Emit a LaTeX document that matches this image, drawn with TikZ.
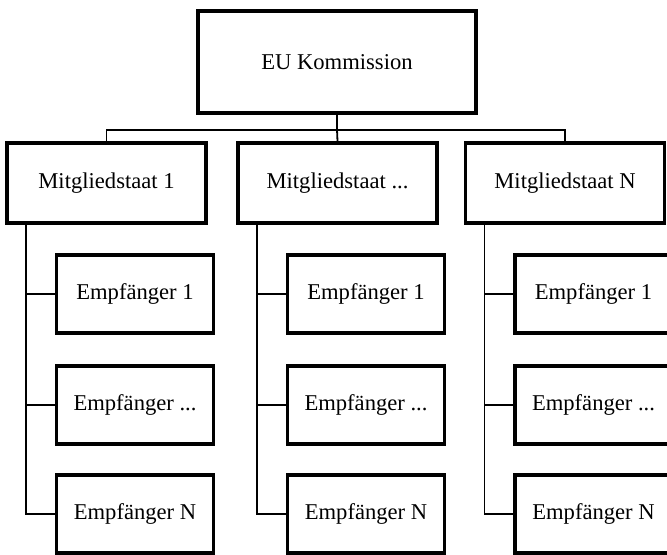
\documentclass[tikz,border=0pt]{standalone}
\usepackage{fontspec}
\setmainfont{Liberation Serif}
\usetikzlibrary{positioning}
\tikzset{>=stealth}
\newcommand{\orgdots}{...}
\tikzset{
    orgbox/.style={draw, line width=1.6pt, inner sep=0pt, font=\fontsize{11.3}{13}\selectfont},
    topbox/.style={orgbox, minimum width=139pt, minimum height=51pt},
    statebox/.style={orgbox, minimum width=99.5pt, minimum height=40pt},
    recbox/.style={orgbox, minimum width=78.5pt, minimum height=39pt},
    link/.style={line width=0.9pt}
}

\begin{document}
\begin{tikzpicture}[x=0.5pt, y=-0.5pt]
    \clip (0,0) rectangle (667,554);
    \node[topbox] (eu) at (337,62) {EU Kommission};
    \foreach \i/\x/\t in {1/106.5/1, 2/337.5/\orgdots, 3/565/N} {
        \node[statebox] (m\i) at (\x,183) {Mitgliedstaat \t};
        \coordinate (t\i) at ([xshift=10.25pt]m\i.south west);
        \foreach \j/\y/\s in {1/294/1, 2/405/\orgdots, 3/514/N} {
            \node[recbox] (e\i\j) at (\x+28.5,\y) {Empf\"anger \s};
        }
        \draw[link] (t\i) |- (e\i3.west);
        \draw[link] (e\i1.west) -- (e\i1.west -| t\i);
        \draw[link] (e\i2.west) -- (e\i2.west -| t\i);
    }
    \draw[link] (eu.south) -- ++(0,15) coordinate (bus);
    \draw[link] (m1.north) |- (bus) -| (m3.north);
    \draw[link] (bus) -- (m2.north);
\end{tikzpicture}
\end{document}
